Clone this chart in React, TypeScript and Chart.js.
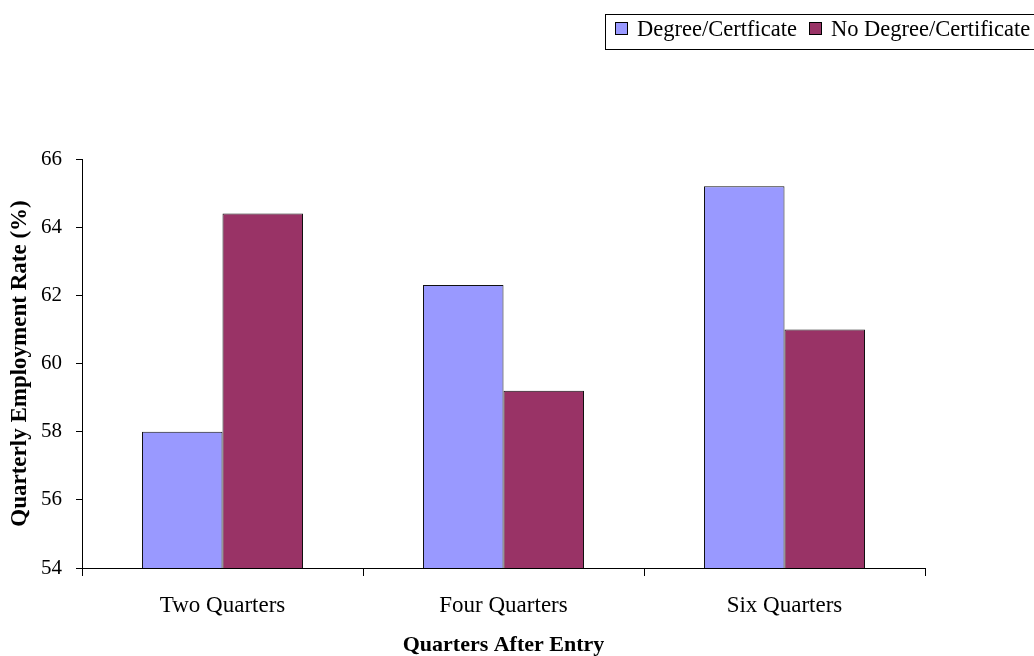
import React, { useEffect, useRef } from "react";
import { Chart, registerables } from "chart.js";

Chart.register(...registerables);

// Employment outcomes by time after entry
const categories = ["Two Quarters", "Four Quarters", "Six Quarters"];
const seriesNames = ["Degree/Certficate", "No Degree/Certificate"];
const degreeValues = [58.0, 62.3, 65.2];
const noDegreeValues = [64.4, 59.2, 61.0];
const seriesColors = ["#9999FF", "#993366"];
const yMin = 54;
const yMax = 66;
const yStep = 2;

const SERIF = "'Liberation Serif', 'Times New Roman', serif";

export default function App() {
  const canvasRef = useRef<HTMLCanvasElement | null>(null);

  useEffect(() => {
    if (!canvasRef.current) return;
    const chart = new Chart(canvasRef.current, {
      type: "bar",
      data: {
        labels: categories,
        datasets: [
          {
            label: seriesNames[0],
            data: degreeValues,
            backgroundColor: seriesColors[0],
            borderColor: "#111111",
            borderWidth: 1,
          },
          {
            label: seriesNames[1],
            data: noDegreeValues,
            backgroundColor: seriesColors[1],
            borderColor: "#111111",
            borderWidth: 1,
          },
        ],
      },
      options: {
        animation: false,
        responsive: true,
        maintainAspectRatio: false,
        layout: { padding: { top: 159, right: 109, bottom: 0, left: 0 } },
        datasets: { bar: { categoryPercentage: 0.573, barPercentage: 1 } },
        plugins: {
          legend: { display: false },
          tooltip: { enabled: false },
        },
        scales: {
          x: {
            grid: {
              display: true,
              drawOnChartArea: false,
              drawTicks: true,
              tickLength: 8,
              color: "#000000",
              offset: true,
            },
            border: { display: true, color: "#000000", width: 1 },
            ticks: {
              color: "#000000",
              font: { family: SERIF, size: 23 },
              padding: 16,
            },
            title: {
              display: true,
              text: "Quarters After Entry",
              color: "#000000",
              font: { family: SERIF, size: 22, weight: "bold", lineHeight: 1.0 },
              padding: { top: 0, bottom: 0 },
            },
            afterFit: (scale: any) => {
              scale.height = 88;
            },
          },
          y: {
            min: yMin,
            max: yMax,
            grid: {
              display: true,
              drawOnChartArea: false,
              drawTicks: true,
              tickLength: 6,
              color: "#000000",
            },
            border: { display: true, color: "#000000", width: 1 },
            ticks: {
              stepSize: yStep,
              color: "#000000",
              font: { family: SERIF, size: 21 },
              padding: 14,
            },
            title: {
              display: true,
              text: "Quarterly Employment Rate (%)",
              color: "#000000",
              font: { family: SERIF, size: 23, weight: "bold", lineHeight: 1.0 },
              padding: { top: 9, bottom: 0 },
            },
            afterFit: (scale: any) => {
              scale.width = 82;
            },
          },
        },
      },
    });
    return () => chart.destroy();
  }, []);

  return (
    <div
      style={{
        position: "fixed",
        left: 0,
        top: 0,
        width: 1034,
        height: 656,
        background: "#ffffff",
        overflow: "hidden",
      }}
    >
      <canvas ref={canvasRef} />
      <div
        style={{
          position: "absolute",
          left: 605,
          top: 14,
          width: 440,
          height: 36,
          border: "1px solid #000000",
          boxSizing: "border-box",
          display: "flex",
          alignItems: "center",
          paddingLeft: 9,
          paddingBottom: 7,
          fontFamily: SERIF,
          fontSize: 22.5,
          color: "#000000",
          whiteSpace: "nowrap",
        }}
      >
        {seriesNames.map((name, i) => (
          <span
            key={name}
            style={{ display: "inline-flex", alignItems: "center", marginRight: 12 }}
          >
            <span
              style={{
                display: "inline-block",
                width: 11,
                height: 11,
                background: seriesColors[i],
                border: "1px solid #000000",
                marginRight: 9,
              }}
            />
            {name}
          </span>
        ))}
      </div>
    </div>
  );
}
